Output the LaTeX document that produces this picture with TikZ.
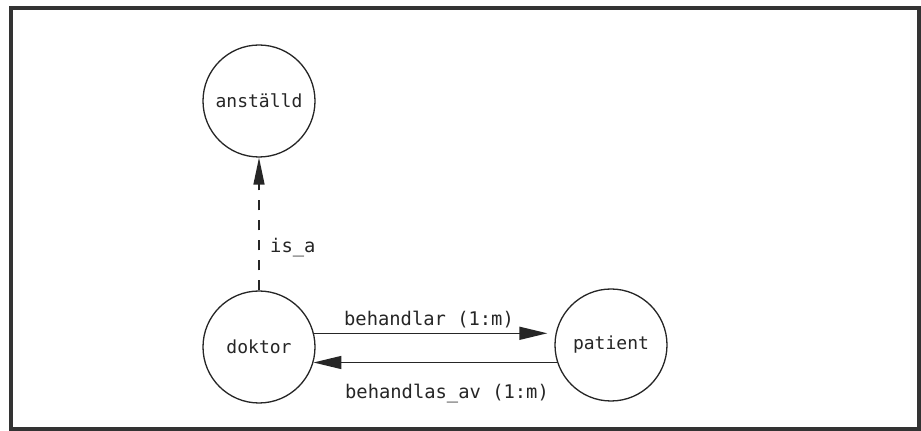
\documentclass[tikz,border=0pt]{standalone}
\usepackage{fontspec}
\setmonofont{DejaVu Sans Mono}
\usetikzlibrary{arrows.meta}
\begin{document}
\begin{tikzpicture}[x=1pt,y=1pt,
  entity/.style={circle,draw=black!85,line width=1.3pt,minimum size=112pt,inner sep=0pt,
    font=\ttfamily\fontsize{18pt}{20pt}\selectfont,text=black!85},
  lbl/.style={font=\ttfamily\fontsize{18.8pt}{20pt}\selectfont,text=black!85,inner sep=0pt},
  rel/.style={line width=1.5pt,draw=black!85,-{Triangle[length=28pt,width=13pt]}},
  isa/.style={line width=1.4pt,draw=black!85,dash pattern=on 10pt off 10pt,
    -{Triangle[length=27pt,width=11pt]}}]
\useasboundingbox (0,0) rectangle (921,431);
\fill[white] (0,0) rectangle (921,431);
\draw[line width=4.5pt,draw=black!80] (11,2) rectangle (919,423);
\node[entity] (anst) at (259,330) {anställd};
\node[entity] (dok) at (259,84) {doktor};
\node[entity] (pat) at (611,86) {patient};
\draw[isa] (dok.north) -- (anst.south);
\draw[rel,shorten >=7pt] (dok.14.5) -- (dok.14.5 -| pat.west);
\draw[rel] (pat.198.4) -- (pat.198.4 -| dok.-16.6);
\node[lbl,anchor=base west] (isal) at (270,178) {is\_a};
\node[lbl,anchor=base] (bl) at (429,105) {behandlar (1:m)};
\node[lbl,anchor=base] (bla) at (447,32) {behandlas\_av (1:m)};
\end{tikzpicture}
\end{document}
